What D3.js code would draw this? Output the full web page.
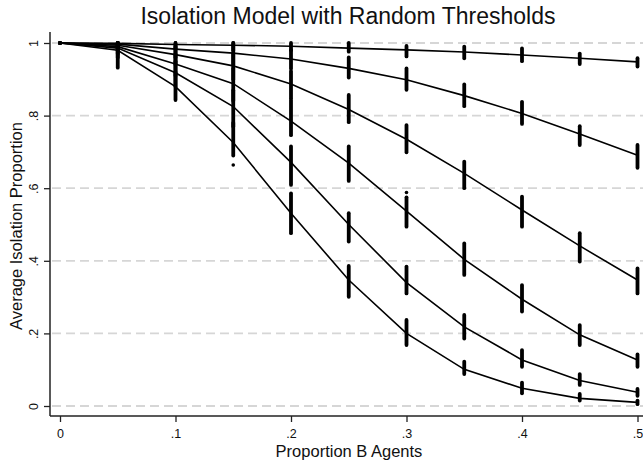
<!DOCTYPE html>
<html>
<head>
<meta charset="utf-8">
<script src="https://cdn.jsdelivr.net/npm/d3@7"></script>
<style>
  body { margin: 0; background: #fff; }
  text { font-family: "Liberation Sans", Arial, Helvetica, sans-serif; fill: #111; }
</style>
</head>
<body>
<svg id="chart" width="643" height="464"></svg>
<script>
// proportion of B agents (x)
const proportions = [0, 0.05, 0.1, 0.15, 0.2, 0.25, 0.3, 0.35, 0.4, 0.45, 0.5];

// mean isolation per threshold setting, top curve to bottom curve
const curve1 = [1, 0.999, 0.996, 0.994, 0.991, 0.986, 0.981, 0.975, 0.967, 0.958, 0.948];
const curve2 = [1, 0.997, 0.983, 0.972, 0.956, 0.930, 0.899, 0.855, 0.806, 0.749, 0.691];
const curve3 = [1, 0.994, 0.968, 0.937, 0.887, 0.817, 0.735, 0.641, 0.540, 0.441, 0.347];
const curve4 = [1, 0.990, 0.942, 0.888, 0.785, 0.669, 0.537, 0.404, 0.294, 0.196, 0.127];
const curve5 = [1, 0.986, 0.918, 0.825, 0.671, 0.500, 0.340, 0.218, 0.127, 0.070, 0.038];
const curve6 = [1, 0.980, 0.880, 0.726, 0.531, 0.347, 0.200, 0.101, 0.049, 0.021, 0.010];

// spread of the individual runs (lowest / highest) for each curve
const runsLow = [
  [1, 0.995, 0.985, 0.98, 0.98, 0.976, 0.963, 0.958, 0.950, 0.942, 0.935],
  [1, 0.99, 0.96, 0.94, 0.93, 0.905, 0.871, 0.826, 0.777, 0.719, 0.656],
  [1, 0.98, 0.94, 0.90, 0.848, 0.782, 0.699, 0.600, 0.494, 0.398, 0.310],
  [1, 0.97, 0.91, 0.84, 0.746, 0.62, 0.494, 0.361, 0.260, 0.168, 0.108],
  [1, 0.96, 0.88, 0.77, 0.609, 0.453, 0.310, 0.186, 0.108, 0.058, 0.028],
  [1, 0.932, 0.843, 0.69, 0.476, 0.301, 0.168, 0.088, 0.035, 0.015, 0.005]
];
const runsHigh = [
  [1, 1, 1, 1, 1, 1, 0.992, 0.990, 0.985, 0.971, 0.958],
  [1, 1, 1, 1, 0.98, 0.960, 0.930, 0.886, 0.838, 0.771, 0.719],
  [1, 1, 0.99, 0.97, 0.923, 0.857, 0.774, 0.673, 0.577, 0.476, 0.379],
  [1, 1, 0.97, 0.93, 0.843, 0.715, 0.575, 0.448, 0.333, 0.223, 0.142],
  [1, 1, 0.95, 0.87, 0.715, 0.531, 0.384, 0.251, 0.154, 0.088, 0.047],
  [1, 1, 0.92, 0.78, 0.586, 0.386, 0.237, 0.122, 0.064, 0.033, 0.015]
];

// stray runs outside the dense bands
const strayX = [0.15, 0.3];
const strayY = [0.664, 0.588];

const xTicks = [0, 0.1, 0.2, 0.3, 0.4, 0.5];
const yTicks = [0, 0.2, 0.4, 0.6, 0.8, 1];

const svg = d3.select('#chart');
const W = 643;
const axisLeftX = 50, axisBottomY = 416, axisTopY = 32;

const x = d3.scaleLinear().domain([0, 0.5]).range([60, 637.5]);
const y = d3.scaleLinear().domain([0, 1]).range([406, 43]);

// Stata style labels: 0, .2, .4 ... 1
const fmt = d => (d === 0 || d === 1) ? String(d) : d3.format('.1f')(d).replace(/^0/, '');

// dashed gridlines
svg.append('g')
  .selectAll('line')
  .data(yTicks)
  .join('line')
  .attr('x1', axisLeftX + 2).attr('x2', W)
  .attr('y1', d => y(d)).attr('y2', d => y(d))
  .attr('stroke', '#d6d6d6')
  .attr('stroke-width', 1.8)
  .attr('stroke-dasharray', '9,5');

// axes
const gx = svg.append('g')
  .attr('transform', 'translate(0,' + axisBottomY + ')')
  .call(d3.axisBottom(x).tickValues(xTicks).tickSize(6).tickFormat(fmt));
gx.select('.domain').remove();
gx.selectAll('line').attr('stroke', '#222').attr('stroke-width', 1.3);
gx.selectAll('text').attr('y', 21.5).attr('dy', 0).style('font-size', '12.5px').style('font-family', null);

const gy = svg.append('g')
  .attr('transform', 'translate(' + axisLeftX + ',0)')
  .call(d3.axisLeft(y).tickValues(yTicks).tickSize(6).tickFormat(fmt));
gy.select('.domain').remove();
gy.selectAll('line').attr('stroke', '#222').attr('stroke-width', 1.3);
gy.selectAll('text')
  .attr('transform', 'rotate(-90)')
  .attr('x', 0).attr('y', -12.5).attr('dy', 0)
  .attr('text-anchor', 'middle')
  .style('font-size', '12.5px').style('font-family', null);

svg.append('line')
  .attr('x1', axisLeftX).attr('x2', axisLeftX)
  .attr('y1', axisTopY).attr('y2', axisBottomY)
  .attr('stroke', '#222').attr('stroke-width', 1.5);
svg.append('line')
  .attr('x1', axisLeftX).attr('x2', W)
  .attr('y1', axisBottomY).attr('y2', axisBottomY)
  .attr('stroke', '#222').attr('stroke-width', 1.5);

// run spreads drawn as dense vertical bands
const curves = [curve1, curve2, curve3, curve4, curve5, curve6];
const bands = [];
runsLow.forEach((lows, c) => {
  lows.forEach((lo, i) => bands.push({ x: proportions[i], lo: lo, hi: runsHigh[c][i] }));
});

svg.append('g')
  .selectAll('line')
  .data(bands)
  .join('line')
  .attr('x1', d => x(d.x)).attr('x2', d => x(d.x))
  .attr('y1', d => y(d.hi)).attr('y2', d => y(d.lo))
  .attr('stroke', '#000')
  .attr('stroke-width', 3.8)
  .attr('stroke-linecap', 'round');

svg.append('g')
  .selectAll('circle')
  .data(strayX.map((v, i) => [v, strayY[i]]))
  .join('circle')
  .attr('cx', d => x(d[0])).attr('cy', d => y(d[1]))
  .attr('r', 1.8)
  .attr('fill', '#000');

// mean lines
const line = d3.line()
  .x((d, i) => x(proportions[i]))
  .y(d => y(d));

svg.append('g')
  .selectAll('path')
  .data(curves)
  .join('path')
  .attr('d', line)
  .attr('fill', 'none')
  .attr('stroke', '#000')
  .attr('stroke-width', 1.6);

// titles
svg.append('text')
  .attr('x', 348).attr('y', 24)
  .attr('text-anchor', 'middle')
  .style('font-size', '23px')
  .text('Isolation Model with Random Thresholds');

svg.append('text')
  .attr('x', 349).attr('y', 457)
  .attr('text-anchor', 'middle')
  .style('font-size', '16.5px')
  .text('Proportion B Agents');

svg.append('text')
  .attr('transform', 'translate(22,226) rotate(-90)')
  .attr('text-anchor', 'middle')
  .style('font-size', '16.5px')
  .text('Average Isolation Proportion');
</script>
</body>
</html>
